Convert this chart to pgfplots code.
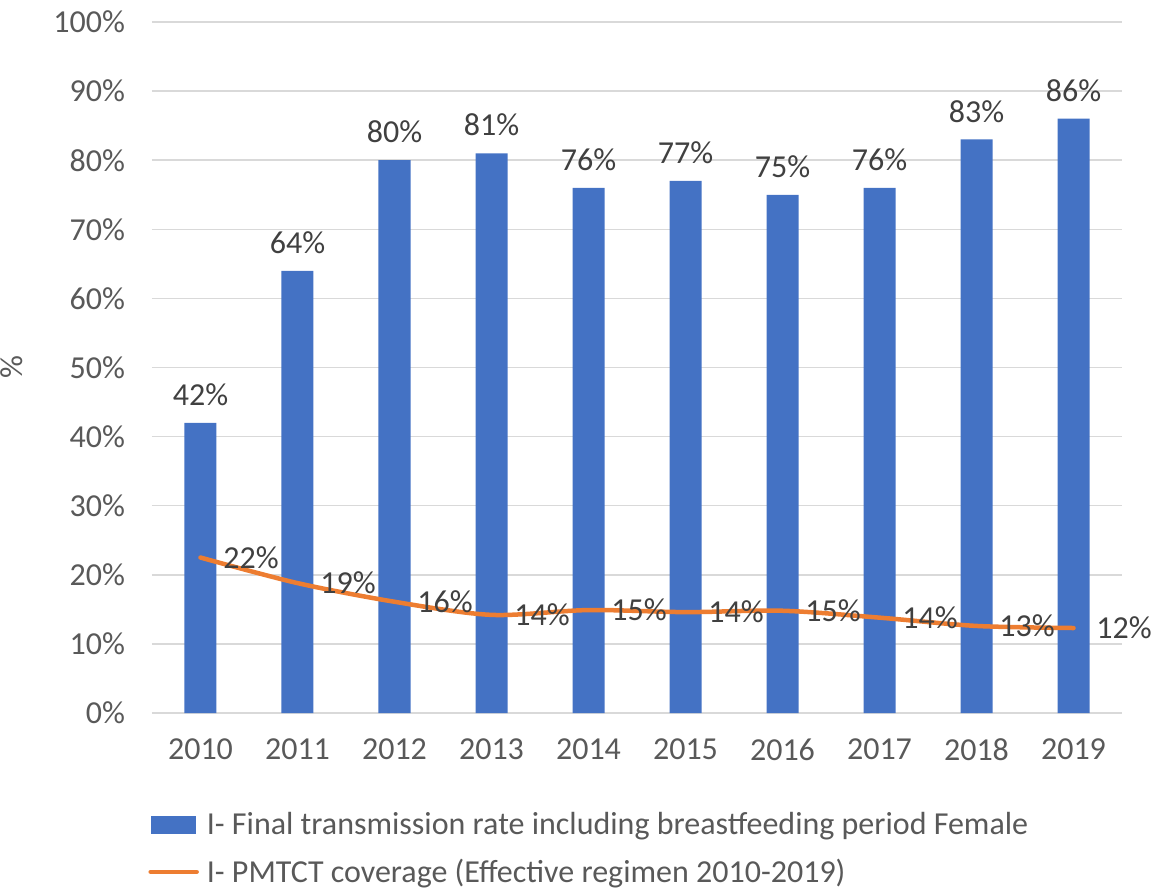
\documentclass[border=0pt]{standalone}
\usepackage{fontspec}
\setmainfont{Carlito}
\usepackage{pgfplots}
\pgfplotsset{compat=1.18}
\definecolor{cBar}{HTML}{4472C4}
\definecolor{cLine}{HTML}{ED7D31}
\definecolor{cGrid}{HTML}{D9D9D9}
\definecolor{cTick}{HTML}{595959}
\definecolor{cLab}{HTML}{404040}

\begin{document}
\begin{tikzpicture}
\begin{axis}[
    width=485pt, height=345.5pt, scale only axis,
    xmin=-0.5, xmax=9.5, ymin=0, ymax=100,
    xtick={0,...,9},
    xticklabels={2010,2011,2012,2013,2014,2015,2016,2017,2018,2019},
    ytick={0,10,...,100},
    yticklabels={0\%,10\%,20\%,30\%,40\%,50\%,60\%,70\%,80\%,90\%,100\%},
    font=\fontsize{16}{19}\selectfont,
    tick label style={text=cTick},
    yticklabel style={xshift=-10pt},
    xticklabel style={yshift=-9.5pt},
    major tick length=0pt,
    ymajorgrids, grid style={cGrid, line width=0.75pt},
    axis x line*=bottom, axis y line*=left,
    x axis line style={cGrid, line width=0.75pt, -},
    y axis line style={draw=none},
    ylabel={\%},
    ylabel style={at={(axis description cs:-0.1258,0.5)}, text=cTick},
    legend cell align=left,
    legend style={at={(axis description cs:0,0)}, anchor=north west,
        xshift=-2pt, yshift=-48pt, draw=none, fill=none, inner sep=0pt,
        font=\fontsize{16}{19}\selectfont, text=cTick,
        nodes={inner xsep=4pt, inner ysep=1.5pt}, row sep=7.5pt},
  ]
  \addplot[ybar, bar width=16pt, fill=cBar, draw=none,
    point meta=explicit symbolic, nodes near coords,
    every node near coord/.append style={text=cLab, yshift=5pt},
    legend image code/.code={\fill[cBar] (0pt,-4.5pt) rectangle (22.5pt,4.5pt);}]
    coordinates {(0,42) [42\%] (1,64) [64\%] (2,80) [80\%] (3,81) [81\%] (4,76) [76\%]
                 (5,77) [77\%] (6,75) [75\%] (7,76) [76\%] (8,83) [83\%] (9,86) [86\%]};
  \addplot[cLine, line width=2.25pt, line cap=round, smooth, tension=0.5, mark=none,
    point meta=explicit symbolic, nodes near coords,
    every node near coord/.append style={text=cLab, anchor=west, xshift=7pt},
    legend image code/.code={\draw[cLine, line width=2.25pt, line cap=round] (0pt,0pt) -- (23pt,0pt);}]
    coordinates {(0,22.5) [22\%] (1,18.8) [19\%] (2,16.1) [16\%] (3,14.2) [14\%] (4,14.9) [15\%]
                 (5,14.6) [14\%] (6,14.8) [15\%] (7,13.8) [14\%] (8,12.6) [13\%] (9,12.3) [12\%]};
  \legend{I- Final transmission rate including breastfeeding period Female,
          I- PMTCT coverage (Effective regimen 2010-2019)}
\end{axis}
\pgfresetboundingbox
\path[use as bounding box] (-76pt,-89pt) rectangle (500pt,356.5pt);
\end{tikzpicture}
\end{document}
